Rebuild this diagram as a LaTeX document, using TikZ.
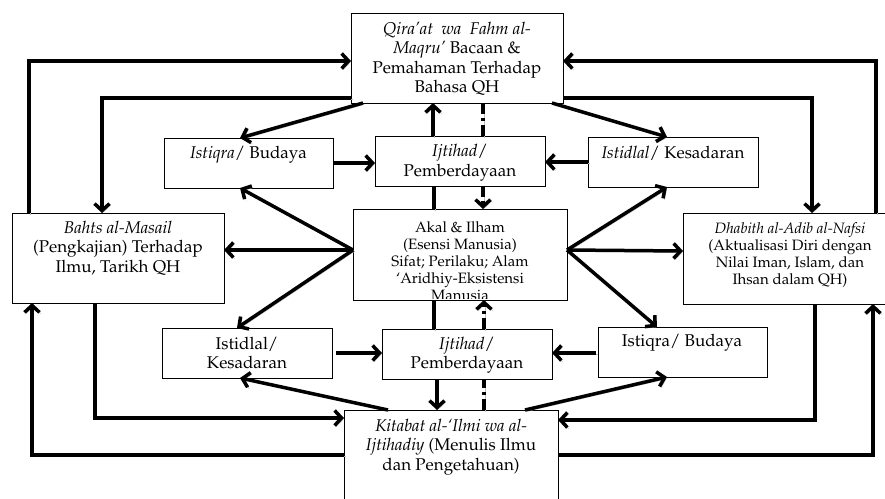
\documentclass[tikz,border=0pt]{standalone}
\usepackage[T1]{fontenc}
\usepackage{mathpazo}
\usetikzlibrary{arrows.meta,calc,fit}
\tikzset{
  bx/.style={draw=black, line width=0.9pt, fill=white, inner sep=0pt, outer sep=0pt, rectangle},
  tx/.style={inner sep=0pt, align=center, font={\fontsize{17}{19.5}\selectfont}},
  txs/.style={inner sep=0pt, align=center, font={\fontsize{15}{17}\selectfont}},
  shadowed/.style={preaction={draw=gray!50, transform canvas={shift={(1.5pt,-1.5pt)}}}},
  ln/.style={line width=3.5pt, shadowed},
  conn/.style={ln, -{Straight Barb[length=7pt,width=15pt]}},
  dln/.style={ln, dash pattern=on 11pt off 4pt on 3pt off 4pt},
  dconn/.style={dln, -{Straight Barb[length=7pt,width=15pt]}},
}
\begin{document}
\begin{tikzpicture}[x=1pt,y=-1pt]
\useasboundingbox (0,0) rectangle (885,498);
% boxes
\node[bx, fit={(351,13) (563,103)}] (Q) {};
\node[bx, fit={(164,138) (333,188)}] (IS1) {};
\node[bx, fit={(375,136) (545,186)}] (IJ1) {};
\node[bx, fit={(588,137) (758,187)}] (ID1) {};
\node[bx, fit={(12,213) (224,303)}] (BM) {};
\node[bx, fit={(353,209) (567,300)}] (AK) {};
\node[bx, fit={(683,213) (895,304)}] (DH) {};
\node[bx, fit={(162,328) (332,378)}] (ID2) {};
\node[bx, fit={(382,329) (552,379)}] (IJ2) {};
\node[bx, fit={(598,327) (767,377)}] (IS2) {};
\node[bx, fit={(344,410) (558,515)}] (KI) {};
% texts
\node[tx] (tQ) at (457,59) {\textit{Qira'at\ \ wa\ \ Fahm al-}\\\textit{Maqru'} Bacaan \&\\Pemahaman Terhadap\\Bahasa QH};
\node[tx] (tIS1) at (248.5,155) {\textit{Istiqra}/ Budaya};
\node[tx] (tIJ1) at (460,162.5) {\textit{Ijtihad}/\\Pemberdayaan};
\node[tx] (tID1) at (673,153) {\textit{Istidlal}/ Kesadaran};
\node[tx] (tBM) at (118,248) {\textit{Bahts al-Masail}\\(Pengkajian) Terhadap\\Ilmu, Tarikh QH};
\begin{scope}
\clip ($(AK.north west)+(1,1)$) rectangle ($(AK.south east)+(-1,-1.5)$);
\node[txs] (tAK) at (460,261) {Akal \& Ilham\\(Esensi Manusia)\\Sifat; Perilaku; Alam\\`Aridhiy-Eksistensi\\Manusia};
\end{scope}
\node[txs] (tDH) at (790,255) {\textit{Dhabith al-Adib al-Nafsi}\\(Aktualisasi Diri dengan\\Nilai Iman, Islam, dan\\Ihsan dalam QH)};
\node[tx] (tID2) at (247,353) {Istidlal/\\Kesadaran};
\node[tx] (tIJ2) at (467,355) {\textit{Ijtihad}/\\Pemberdayaan};
\node[tx] (tIS2) at (682,343) {Istiqra/ Budaya};
\node[tx] (tKI) at (451,447) {\textit{Kitabat al-`Ilmi wa al-}\\\textit{Ijtihadiy} (Menulis Ilmu\\dan Pengetahuan)};
% outer loops
\draw[conn] ($(BM.north west)+(17,0)$) |- ($(Q.north west)+(0,48)$);
\draw[conn] ($(Q.north west)+(0,85)$) -| ($(BM.north west)+(90,0)$);
\draw[conn] ($(BM.south west)+(83,0)$) |- ($(KI.north west)+(0,8)$);
\draw[conn] ($(KI.north west)+(0,45)$) -| ($(BM.south west)+(20,0)$);
\draw[conn] ($(DH.north west)+(193,0)$) |- ($(Q.north east)+(0,48)$);
\draw[conn] ($(Q.north east)+(0,85)$) -| ($(DH.north west)+(129,0)$);
\draw[conn] ($(DH.south west)+(132,0)$) |- ($(KI.north east)+(0,10)$);
\draw[conn] ($(KI.north east)+(0,45)$) -| ($(DH.south west)+(190,0)$);
% upper part
\draw[conn] ($(Q.south west)+(12,0)$) -- ($(IS1.north west)+(76,0)$);
\draw[conn] ($(Q.south east)+(-11,0)$) -- ($(ID1.north west)+(79,0)$);
\draw[conn] ($(IJ1.north west)+(58,0)$) -- ($(Q.south west)+(82,0)$);
\draw[dln] ($(Q.south west)+(132,0)$) -- ($(IJ1.north west)+(108,0)$);
\draw[dconn] ($(IJ1.south west)+(108,0)$) -- ($(AK.north west)+(130,0)$);
\draw[ln] ($(IJ1.south west)+(59,0)$) -- ($(AK.north west)+(81,0)$);
\draw[conn] ($(IS1.north east)+(0,25)$) -- ($(IJ1.north west)+(0,27)$);
\draw[conn] ($(ID1.north west)+(0,25)$) -- ($(IJ1.north east)+(0,26)$);
% from Akal
\draw[conn] ($(AK.north west)+(0,41)$) -- ($(IS1.south west)+(76,0)$);
\draw[conn] ($(AK.north west)+(0,41)$) -- ($(BM.north east)+(0,37)$);
\draw[conn] ($(AK.north west)+(0,41)$) -- ($(ID2.north west)+(75,0)$);
\draw[conn] ($(AK.north east)+(0,41)$) -- ($(ID1.south west)+(79,0)$);
\draw[conn] ($(AK.north east)+(0,41)$) -- ($(DH.north west)+(0,38)$);
\draw[conn] ($(AK.north east)+(0,41)$) -- ($(IS2.north west)+(59,0)$);
% lower part
\draw[ln] ($(AK.south west)+(81,0)$) -- ($(IJ2.north west)+(52,0)$);
\draw[dconn] ($(IJ2.north west)+(102,0)$) -- ($(AK.south west)+(131,0)$);
\draw[conn] ($(IJ2.south west)+(55,0)$) -- ($(KI.north west)+(93,0)$);
\draw[dln] ($(KI.north west)+(140,0)$) -- ($(IJ2.south west)+(102,0)$);
\draw[conn] ($(ID2.north east)+(4,25)$) -- ($(IJ2.north west)+(0,24)$);
\draw[conn] ($(IS2.north west)+(-2,26)$) -- ($(IJ2.north east)+(0,24)$);
\draw[conn] ($(KI.north west)+(44,0)$) -- ($(ID2.south west)+(78,0)$);
\draw[conn] ($(KI.north west)+(181,0)$) -- ($(IS2.south west)+(69,0)$);
\end{tikzpicture}
\end{document}
